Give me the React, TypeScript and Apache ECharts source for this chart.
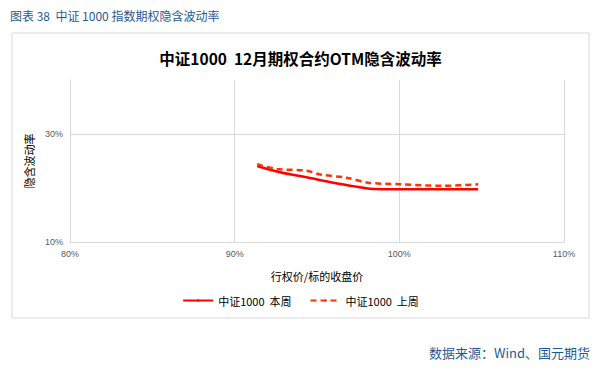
import React, { useEffect, useRef } from "react";
import * as echarts from "echarts";

const thisWeekX = [0.9137, 0.9275, 0.9437, 0.9599, 0.9741, 0.9821, 1.0004, 1.0240, 1.0479];
const thisWeekY = [0.2407, 0.2291, 0.2198, 0.2098, 0.2024, 0.1987, 0.1976, 0.1975, 0.1976];
const lastWeekX = [0.9137, 0.9255, 0.9437, 0.9520, 0.9680, 0.9810, 1.0000, 1.0270, 1.0479];
const lastWeekY = [0.2439, 0.2352, 0.2320, 0.2250, 0.2190, 0.2098, 0.2070, 0.2040, 0.2070];
const seriesNames = ["中证1000  本周", "中证1000  上周"];
const xTicks = { min: 0.8, max: 1.1, step: 0.1 };
const yTicks = { min: 0.1, max: 0.4, step: 0.2 };

const CJK = '"Noto Sans CJK SC", "Liberation Sans", sans-serif';
const LAT = '"Liberation Sans", Arial, sans-serif';

export default function App() {
  const ref = useRef<HTMLDivElement>(null);
  useEffect(() => {
    document.body.style.margin = "0";
    const chart = echarts.init(ref.current!, null, { renderer: "svg" });
    const pct = (v: number) => `${Math.round(v * 100)}%`;
    chart.setOption({
      animation: false,
      backgroundColor: "#ffffff",
      graphic: [
        {
          type: "text",
          left: 10,
          top: 9,
          style: { text: "图表 38  中证 1000 指数期权隐含波动率", fill: "#1f5a96", font: `12px ${CJK}` },
        },
        {
          type: "rect",
          shape: { x: 12, y: 33, width: 577, height: 285 },
          style: { fill: "none", stroke: "#d9d9d9", lineWidth: 1 },
          z: -1,
        },
        {
          type: "text",
          right: 11,
          top: 346,
          style: { text: "数据来源：Wind、国元期货", fill: "#1f5a96", font: `13px ${CJK}` },
        },
      ],
      title: {
        text: "中证1000  12月期权合约OTM隐含波动率",
        left: "center",
        top: 45,
        textStyle: { fontFamily: CJK, fontSize: 15.5, fontWeight: "bold", color: "#000" },
      },
      legend: {
        bottom: 73,
        left: "center",
        itemWidth: 30,
        itemHeight: 3,
        itemGap: 18,
        textStyle: { fontFamily: CJK, fontSize: 11, color: "#000" },
        data: seriesNames,
      },
      grid: { left: 70, right: 37, top: 80, bottom: 142, containLabel: false },
      xAxis: {
        type: "value",
        min: xTicks.min,
        max: xTicks.max,
        interval: xTicks.step,
        name: "行权价/标的收盘价",
        nameLocation: "middle",
        nameGap: 28,
        nameTextStyle: { fontFamily: CJK, fontSize: 11, color: "#000" },
        axisLine: { show: true, lineStyle: { color: "#d9d9d9" } },
        axisTick: { show: false },
        axisLabel: { formatter: pct, fontFamily: LAT, fontSize: 9, color: "#595959", margin: 7 },
        splitLine: { show: true, showMinLine: false, lineStyle: { color: "#d9d9d9" } },
      },
      yAxis: {
        type: "value",
        min: yTicks.min,
        max: yTicks.max,
        interval: yTicks.step,
        name: "隐含波动率",
        nameLocation: "middle",
        nameGap: 30,
        nameRotate: 90,
        nameTextStyle: { fontFamily: CJK, fontSize: 11, color: "#000" },
        axisLine: { show: true, lineStyle: { color: "#d9d9d9" } },
        axisTick: { show: false },
        axisLabel: { formatter: pct, fontFamily: LAT, fontSize: 9, color: "#595959", margin: 7, showMaxLabel: false },
        splitLine: { show: true, showMinLine: false, showMaxLine: false, lineStyle: { color: "#d9d9d9" } },
      },
      series: [
        {
          name: seriesNames[0],
          type: "line",
          smooth: 0.3,
          symbol: "none",
          data: thisWeekX.map((x, i) => [x, thisWeekY[i]]),
          lineStyle: { color: "#ff0000", width: 2.5 },
          itemStyle: { color: "#ff0000" },
        },
        {
          name: seriesNames[1],
          type: "line",
          smooth: 0.3,
          symbol: "none",
          data: lastWeekX.map((x, i) => [x, lastWeekY[i]]),
          lineStyle: { color: "#ff3300", width: 2.5, type: [6, 4] },
          itemStyle: { color: "#ff3300" },
        },
      ],
    });
    return () => chart.dispose();
  }, []);
  return <div ref={ref} style={{ position: "fixed", left: 0, top: 0, width: 601, height: 384 }} />;
}
